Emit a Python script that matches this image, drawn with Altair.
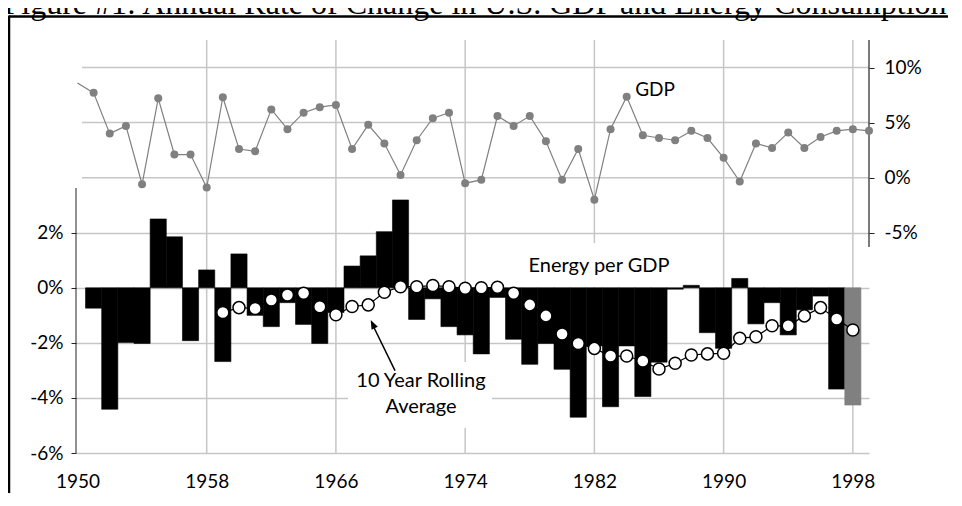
import altair as alt
import pandas as pd

# ---------------- data ----------------
gdp_years = list(range(1950, 2000))
gdp_growth = [8.6, 7.7, 4.0, 4.7, -0.6, 7.2, 2.1, 2.1, -0.9, 7.3,
              2.6, 2.4, 6.2, 4.4, 5.9, 6.4, 6.6, 2.6, 4.8, 3.1,
              0.25, 3.4, 5.4, 5.9, -0.5, -0.2, 5.6, 4.7, 5.6, 3.3,
              -0.2, 2.6, -2.0, 4.4, 7.35, 3.85, 3.6, 3.4, 4.25, 3.6,
              1.8, -0.35, 3.1, 2.7, 4.1, 2.7, 3.7, 4.25, 4.4, 4.25]

energy_years = list(range(1951, 1999))
energy_per_gdp = [-0.74, -4.41, -1.99, -2.02, 2.5, 1.85, -1.92, 0.65, -2.68,
                  1.23, -1.0, -1.41, -0.54, -1.33, -2.02, -0.9, 0.79, 1.16, 2.04,
                  3.19, -1.15, -0.4, -1.41, -1.71, -2.4, -0.35, -1.87, -2.78, -2.02,
                  -2.96, -4.7, -2.11, -4.32, -2.11, -3.95, -2.7, -0.05, 0.09, -1.63,
                  -2.2, 0.34, -1.31, -0.54, -1.71, -0.8, -0.3, -3.68, -4.26]

avg_years = list(range(1959, 1999))
rolling_avg = [-0.9, -0.72, -0.75, -0.44, -0.26, -0.2, -0.69, -0.98, -0.68, -0.62,
               -0.16, 0.04, 0.04, 0.08, 0.04, -0.02, 0.0, 0.02, -0.2, -0.62,
               -1.02, -1.68, -2.02, -2.2, -2.48, -2.48, -2.66, -2.95, -2.74, -2.44,
               -2.4, -2.38, -1.83, -1.78, -1.38, -1.38, -1.02, -0.72, -1.13, -1.53]

year_ticks = [1950, 1958, 1966, 1974, 1982, 1990, 1998]
grid_years = [1958, 1966, 1974, 1982, 1990, 1998]
left_ticks = [-6, -4, -2, 0, 2]
right_ticks = [-5, 0, 5, 10]
top_grid = [0, 5, 10]

TITLE = "Figure #1: Annual Rate of Change in U.S. GDP and Energy Consumption"

# ---------------- layout / style ----------------
W, H = 793, 413
FONT = "Lato"
GRID = "#c6c6c6"
DARK = "#222222"

xs = alt.Scale(domain=[1949.91, 1999.0], nice=False, zero=False)
ls = alt.Scale(domain=[-6, 9], nice=False, zero=False)
rs = alt.Scale(domain=[-25, 12.5], nice=False, zero=False)

x_axis = alt.Axis(values=year_ticks, format="d", title=None, grid=False, ticks=False,
                  domain=False, labelFontSize=19, labelFont=FONT, labelColor="black",
                  labelPadding=19, labelFlush=False, labelOverlap=False)
left_axis = alt.Axis(values=left_ticks, labelExpr="datum.value + '%'", title=None,
                     grid=True, gridColor=GRID, gridWidth=1.5, domain=False,
                     ticks=True, tickColor=DARK, tickSize=5, labelFontSize=19,
                     labelFont=FONT, labelColor="black", labelPadding=8, orient="left")
right_axis = alt.Axis(values=right_ticks, labelExpr="datum.value + '%'", title=None,
                      grid=False, domain=False, ticks=True, tickColor=DARK, tickSize=5,
                      labelFontSize=19, labelFont=FONT, labelColor="black",
                      labelPadding=10, orient="right")


def X(field):
    return alt.X(field, type="quantitative", scale=xs, axis=x_axis)


def YL(field):
    return alt.Y(field, type="quantitative", scale=ls, axis=left_axis)


def YR(field):
    return alt.Y(field, type="quantitative", scale=rs, axis=right_axis)


one = pd.DataFrame({"k": [0]})
gdp_df = pd.DataFrame({"year": gdp_years, "gdp": gdp_growth})
en_df = pd.DataFrame({"year": energy_years, "val": energy_per_gdp})
avg_df = pd.DataFrame({"year": avg_years, "avg": rolling_avg})

# ---------------- left-scale layer ----------------
vgrid = alt.Chart(pd.DataFrame({"year": grid_years})).mark_rule(
    color=GRID, strokeWidth=1.5).encode(x=X("year"), y=alt.value(0), y2=alt.value(H))

bar_color = alt.condition("datum.year == 1998", alt.value("#808080"), alt.value("#000000"))
bars = alt.Chart(en_df).transform_calculate(
    x0="datum.year - 0.5", x1="datum.year + 0.5", zero="0"
).mark_rect(strokeWidth=0.6).encode(
    x=X("x0"), x2="x1:Q", y=YL("val"), y2="zero:Q", color=bar_color, stroke=bar_color)

left_line = alt.Chart(one).mark_rule(color=DARK, strokeWidth=1).encode(
    x=alt.value(0), y=alt.value(148), y2=alt.value(H))

avg_line = alt.Chart(avg_df).mark_line(color="black", strokeWidth=1.2).encode(
    x=X("year"), y=YL("avg"))
avg_pts = alt.Chart(avg_df).mark_circle(
    color="white", stroke="black", strokeWidth=1.5, size=145, opacity=1
).encode(x=X("year"), y=YL("avg"))

box_roll = alt.Chart(one).mark_rect(color="white").encode(
    x=alt.value(272), x2=alt.value(416), y=alt.value(322), y2=alt.value(388))
box_energy = alt.Chart(one).mark_rect(color="white").encode(
    x=alt.value(444), x2=alt.value(602), y=alt.value(203), y2=alt.value(247))

txt_energy = alt.Chart(one).mark_text(
    text="Energy per GDP", font=FONT, fontSize=20, align="center", baseline="alphabetic",
    color="black").encode(x=alt.value(523), y=alt.value(232))
txt_roll = alt.Chart(one).mark_text(
    text="10 Year Rolling\nAverage", lineBreak="\n", lineHeight=26, font=FONT, fontSize=20,
    align="center", baseline="alphabetic", color="black"
).encode(x=alt.value(345), y=alt.value(347))

arrow_shaft = alt.Chart(one).mark_rule(color="black", strokeWidth=1.5).encode(
    x=alt.value(319), x2=alt.value(296.5), y=alt.value(330.7), y2=alt.value(284.5))
arrow_head = alt.Chart(one).mark_point(
    shape="M0,0L1,2.6L-1,2.6Z", filled=True, color="black", size=49, angle=334, opacity=1
).encode(x=alt.value(294.7), y=alt.value(280))

title = alt.Chart(one).mark_text(
    text=TITLE, font="Liberation Serif", fontSize=32, align="center",
    baseline="alphabetic", color="black").encode(x=alt.value(399), y=alt.value(-26))
frame_top = alt.Chart(one).mark_rule(color="black", strokeWidth=2.5).encode(
    x=alt.value(-67), x2=alt.value(900), y=alt.value(-23.5))
frame_left = alt.Chart(one).mark_rule(color="black", strokeWidth=2.5).encode(
    x=alt.value(-67), y=alt.value(-24.5), y2=alt.value(520))

layer_left = alt.layer(vgrid, bars, left_line, avg_line, avg_pts, box_roll, box_energy,
                       txt_energy, txt_roll, arrow_shaft, arrow_head, title,
                       frame_top, frame_left)

# ---------------- right-scale layer ----------------
topgrid = alt.Chart(pd.DataFrame({"v": top_grid})).mark_rule(
    color=GRID, strokeWidth=1.5).encode(y=YR("v"), x=alt.value(6), x2=alt.value(W))
right_line = alt.Chart(one).mark_rule(color=DARK, strokeWidth=1.2).encode(
    x=alt.value(W), y=alt.value(0), y2=alt.value(207))
gdp_line = alt.Chart(gdp_df).mark_line(color="#808080", strokeWidth=1.2, clip=True).encode(
    x=X("year"), y=YR("gdp"))
gdp_pts = alt.Chart(gdp_df).transform_filter("datum.year >= 1951").mark_circle(
    color="#808080", size=64, opacity=1).encode(x=X("year"), y=YR("gdp"))
txt_gdp = alt.Chart(one).mark_text(
    text="GDP", font=FONT, fontSize=19, align="center", baseline="middle",
    color="black").encode(x=alt.value(579), y=alt.value(50))

layer_right = alt.layer(topgrid, right_line, gdp_line, gdp_pts, txt_gdp)

chart = alt.layer(layer_left, layer_right).resolve_scale(y="independent").properties(
    width=W, height=H,
    autosize=alt.AutoSizeParams(type="none"),
    padding={"left": 68, "top": 32, "right": 79, "bottom": 40},
).configure_view(stroke=None)

chart.save("out.html", embed_options={"renderer": "svg", "actions": False})
